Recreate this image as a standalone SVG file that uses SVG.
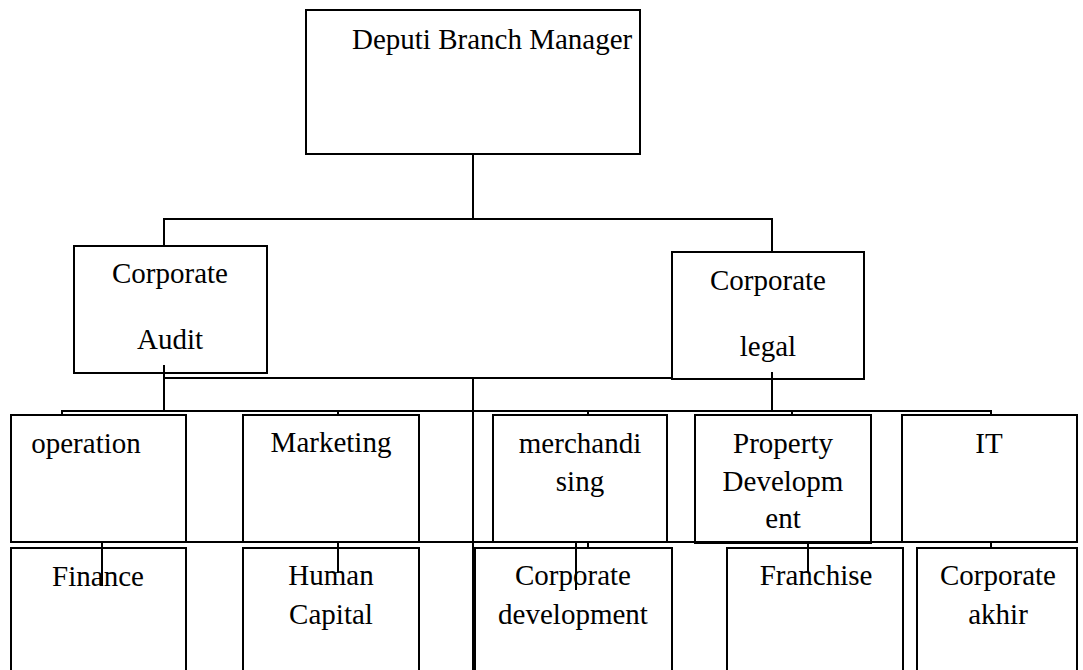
<svg xmlns="http://www.w3.org/2000/svg" width="1083" height="670" viewBox="0 0 1083 670">
  <style>
    .box { fill: #fff; stroke: #000; stroke-width: 2; }
    .lbl { font-family: "Liberation Serif", "Times New Roman", serif; font-size: 29px; fill: #000; text-anchor: middle; }
    .lbl-l { font-family: "Liberation Serif", "Times New Roman", serif; font-size: 29px; fill: #000; }
    .conn { fill: none; stroke: #000; stroke-width: 2; }
  </style>
  <rect width="1083" height="670" fill="#fff"/>

  <!-- top level -->
  <g id="deputi-branch-manager">
    <rect class="box" x="306" y="10" width="334" height="144"/>
    <text class="lbl-l" x="352" y="49">Deputi Branch Manager</text>
  </g>

  <!-- second level -->
  <g id="corporate-audit">
    <rect class="box" x="74" y="246" width="193" height="127"/>
    <text class="lbl" x="170" y="283">Corporate</text>
    <text class="lbl" x="170" y="349">Audit</text>
  </g>
  <g id="corporate-legal">
    <rect class="box" x="672" y="252" width="192" height="127"/>
    <text class="lbl" x="768" y="290">Corporate</text>
    <text class="lbl" x="768" y="356">legal</text>
  </g>

  <!-- departments, row 1 -->
  <g id="operation">
    <rect class="box" x="11" y="415" width="175" height="127"/>
    <text class="lbl" x="86" y="453">operation</text>
  </g>
  <g id="marketing">
    <rect class="box" x="243" y="415" width="176" height="127"/>
    <text class="lbl" x="331" y="452">Marketing</text>
  </g>
  <g id="merchandising">
    <rect class="box" x="493" y="415" width="174" height="127"/>
    <text class="lbl" x="580" y="453">merchandi</text>
    <text class="lbl" x="580" y="491">sing</text>
  </g>
  <g id="property-development">
    <rect class="box" x="695" y="415" width="176" height="128"/>
    <text class="lbl" x="783" y="453">Property</text>
    <text class="lbl" x="783" y="491">Developm</text>
    <text class="lbl" x="783" y="528">ent</text>
  </g>
  <g id="it">
    <rect class="box" x="902" y="415" width="175" height="127"/>
    <text class="lbl" x="989" y="453">IT</text>
  </g>

  <!-- departments, row 2 (run past the lower edge) -->
  <g id="finance">
    <rect class="box" x="11" y="548" width="175" height="140"/>
    <text class="lbl" x="98" y="586">Finance</text>
  </g>
  <g id="human-capital">
    <rect class="box" x="243" y="548" width="176" height="140"/>
    <text class="lbl" x="331" y="585">Human</text>
    <text class="lbl" x="331" y="624">Capital</text>
  </g>
  <g id="corporate-development">
    <rect class="box" x="475" y="548" width="197" height="140"/>
    <text class="lbl" x="573" y="585">Corporate</text>
    <text class="lbl" x="573" y="624">development</text>
  </g>
  <g id="franchise">
    <rect class="box" x="727" y="548" width="176" height="140"/>
    <text class="lbl" x="816" y="585">Franchise</text>
  </g>
  <g id="corporate-akhir">
    <rect class="box" x="917" y="548" width="160" height="140"/>
    <text class="lbl" x="998" y="585">Corporate</text>
    <text class="lbl" x="998" y="624">akhir</text>
  </g>

  <!-- elbow connectors -->
  <g id="connectors">
    <path class="conn" d="M473 154 V219 M164 246 V219 H772 V252"/>
    <path class="conn" d="M164 365 V411 M164 378 H672 M772 372 V411 M473 378 V670"/>
    <path class="conn" d="M62 415 V411 H991 V415 M338 411 V415 M588 411 V415 M792 411 V415"/>
    <path class="conn" d="M102 586 V542 H991 V548 M338 542 V573 M576 542 V590 M588 542 V548 M808 542 V572"/>
  </g>
</svg>
